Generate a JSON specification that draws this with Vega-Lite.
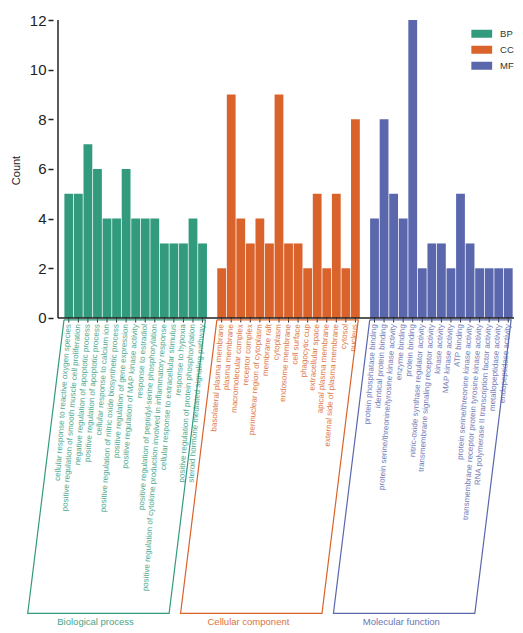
{
  "$schema": "https://vega.github.io/schema/vega-lite/v6.json",
  "width": 466,
  "height": 613,
  "autosize": {"type": "none"},
  "padding": {"left": 53, "top": 20, "right": 4, "bottom": 0},
  "background": "white",
  "config": {"font": "Liberation Sans", "view": {"stroke": null}},
  "data": {"values": [
    {"term": "cellular response to reactive oxygen species", "group": "BP", "category": "Biological process", "idx": 1, "count": 5},
    {"term": "positive regulation of smooth muscle cell proliferation", "group": "BP", "category": "Biological process", "idx": 2, "count": 5},
    {"term": "negative regulation of apoptotic process", "group": "BP", "category": "Biological process", "idx": 3, "count": 7},
    {"term": "positive regulation of apoptotic process", "group": "BP", "category": "Biological process", "idx": 4, "count": 6},
    {"term": "cellular response to calcium ion", "group": "BP", "category": "Biological process", "idx": 5, "count": 4},
    {"term": "positive regulation of nitric oxide biosynthetic process", "group": "BP", "category": "Biological process", "idx": 6, "count": 4},
    {"term": "positive regulation of gene expression", "group": "BP", "category": "Biological process", "idx": 7, "count": 6},
    {"term": "positive regulation of MAP kinase activity", "group": "BP", "category": "Biological process", "idx": 8, "count": 4},
    {"term": "response to estradiol", "group": "BP", "category": "Biological process", "idx": 9, "count": 4},
    {"term": "positive regulation of peptidyl-serine phosphorylation", "group": "BP", "category": "Biological process", "idx": 10, "count": 4},
    {"term": "positive regulation of cytokine production involved in inflammatory response", "group": "BP", "category": "Biological process", "idx": 11, "count": 3},
    {"term": "cellular response to extracellular stimulus", "group": "BP", "category": "Biological process", "idx": 12, "count": 3},
    {"term": "response to hypoxia", "group": "BP", "category": "Biological process", "idx": 13, "count": 3},
    {"term": "positive regulation of protein phosphorylation", "group": "BP", "category": "Biological process", "idx": 14, "count": 4},
    {"term": "steroid hormone mediated signaling pathway", "group": "BP", "category": "Biological process", "idx": 15, "count": 3},
    {"term": "basolateral plasma membrane", "group": "CC", "category": "Cellular component", "idx": 17, "count": 2},
    {"term": "plasma membrane", "group": "CC", "category": "Cellular component", "idx": 18, "count": 9},
    {"term": "macromolecular complex", "group": "CC", "category": "Cellular component", "idx": 19, "count": 4},
    {"term": "receptor complex", "group": "CC", "category": "Cellular component", "idx": 20, "count": 3},
    {"term": "perinuclear region of cytoplasm", "group": "CC", "category": "Cellular component", "idx": 21, "count": 4},
    {"term": "membrane raft", "group": "CC", "category": "Cellular component", "idx": 22, "count": 3},
    {"term": "cytoplasm", "group": "CC", "category": "Cellular component", "idx": 23, "count": 9},
    {"term": "endosome membrane", "group": "CC", "category": "Cellular component", "idx": 24, "count": 3},
    {"term": "cell surface", "group": "CC", "category": "Cellular component", "idx": 25, "count": 3},
    {"term": "phagocytic cup", "group": "CC", "category": "Cellular component", "idx": 26, "count": 2},
    {"term": "extracellular space", "group": "CC", "category": "Cellular component", "idx": 27, "count": 5},
    {"term": "apical plasma membrane", "group": "CC", "category": "Cellular component", "idx": 28, "count": 2},
    {"term": "external side of plasma membrane", "group": "CC", "category": "Cellular component", "idx": 29, "count": 5},
    {"term": "cytosol", "group": "CC", "category": "Cellular component", "idx": 30, "count": 2},
    {"term": "nucleus", "group": "CC", "category": "Cellular component", "idx": 31, "count": 8},
    {"term": "protein phosphatase binding", "group": "MF", "category": "Molecular function", "idx": 33, "count": 4},
    {"term": "identical protein binding", "group": "MF", "category": "Molecular function", "idx": 34, "count": 8},
    {"term": "protein serine/threonine/tyrosine kinase activity", "group": "MF", "category": "Molecular function", "idx": 35, "count": 5},
    {"term": "enzyme binding", "group": "MF", "category": "Molecular function", "idx": 36, "count": 4},
    {"term": "protein binding", "group": "MF", "category": "Molecular function", "idx": 37, "count": 12},
    {"term": "nitric-oxide synthase regulator activity", "group": "MF", "category": "Molecular function", "idx": 38, "count": 2},
    {"term": "transmembrane signaling receptor activity", "group": "MF", "category": "Molecular function", "idx": 39, "count": 3},
    {"term": "kinase activity", "group": "MF", "category": "Molecular function", "idx": 40, "count": 3},
    {"term": "MAP kinase activity", "group": "MF", "category": "Molecular function", "idx": 41, "count": 2},
    {"term": "ATP binding", "group": "MF", "category": "Molecular function", "idx": 42, "count": 5},
    {"term": "protein serine/threonine kinase activity", "group": "MF", "category": "Molecular function", "idx": 43, "count": 3},
    {"term": "transmembrane receptor protein tyrosine kinase activity", "group": "MF", "category": "Molecular function", "idx": 44, "count": 2},
    {"term": "RNA polymerase II transcription factor activity", "group": "MF", "category": "Molecular function", "idx": 45, "count": 2},
    {"term": "metallopeptidase activity", "group": "MF", "category": "Molecular function", "idx": 46, "count": 2},
    {"term": "endopeptidase activity", "group": "MF", "category": "Molecular function", "idx": 47, "count": 2}
  ]},
  "layer": [
    {
      "mark": {"type": "bar", "size": 8.8},
      "encoding": {
        "x": {"field": "idx", "type": "quantitative", "scale": {"domain": [-0.13, 47.6], "nice": false, "zero": false}, "axis": null},
        "y": {"field": "count", "type": "quantitative", "scale": {"domain": [-12.69, 12], "nice": false, "zero": false},
          "axis": {"values": [0, 2, 4, 6, 8, 10, 12], "domain": false, "grid": false, "ticks": true, "tickColor": "#222", "tickSize": 5, "tickWidth": 1.5,
            "labelFontSize": 15, "labelColor": "#222", "labelPadding": 2, "title": "Count", "titleFontSize": 11, "titleFontWeight": "normal", "titleColor": "#222", "titlePadding": 8, "titleY": 150}},
        "color": {"field": "group", "type": "nominal", "scale": {"domain": ["BP", "CC", "MF"], "range": ["#329b7d", "#d9632b", "#5a67ad"]},
          "legend": {"orient": "none", "legendX": 424, "legendY": 9, "title": null, "symbolType": "M-2.6,-1H2.6V1H-2.6Z", "symbolSize": 64, "labelFontSize": 9.5, "labelOffset": 13.6, "rowPadding": 5, "padding": 0, "symbolStrokeWidth": 0, "labelColor": "#333", "symbolOpacity": 1}}
      }
    },
    {
      "mark": {"type": "rule", "color": "#222", "strokeWidth": 1},
      "encoding": {
        "x": {"field": "idx", "type": "quantitative", "scale": {"domain": [-0.13, 47.6], "nice": false, "zero": false}},
        "y": {"datum": 0, "type": "quantitative", "scale": {"domain": [-12.69, 12], "nice": false, "zero": false}},
        "y2": {"datum": -0.18}
      }
    },
    {
      "data": {"values": [{}]},
      "mark": {"type": "rule", "color": "#222", "strokeWidth": 1.5},
      "encoding": {
        "x": {"datum": -0.13, "type": "quantitative", "scale": {"domain": [-0.13, 47.6], "nice": false, "zero": false}},
        "x2": {"datum": 47.6},
        "y": {"datum": 0, "type": "quantitative", "scale": {"domain": [-12.69, 12], "nice": false, "zero": false}}
      }
    },
    {
      "data": {"values": [{}]},
      "mark": {"type": "rule", "color": "#222", "strokeWidth": 1.5},
      "encoding": {
        "x": {"datum": -0.13, "type": "quantitative", "scale": {"domain": [-0.13, 47.6], "nice": false, "zero": false}},
        "y": {"datum": 0, "type": "quantitative", "scale": {"domain": [-12.69, 12], "nice": false, "zero": false}},
        "y2": {"datum": 12}
      }
    },
    {
      "mark": {"type": "text", "angle": 274, "align": "right", "baseline": "middle", "fontSize": 8, "opacity": 0.85},
      "encoding": {
        "x": {"field": "idx", "type": "quantitative", "scale": {"domain": [-0.13, 47.6], "nice": false, "zero": false}},
        "y": {"datum": -0.25, "type": "quantitative", "scale": {"domain": [-12.69, 12], "nice": false, "zero": false}},
        "text": {"field": "term"},
        "fill": {"field": "group", "type": "nominal", "scale": {"domain": ["BP", "CC", "MF"], "range": ["#329b7d", "#d9632b", "#5a67ad"]}, "legend": null}
      }
    },
    {
      "transform": [
        {"aggregate": [{"op": "min", "field": "idx", "as": "lo"}, {"op": "max", "field": "idx", "as": "hi"}], "groupby": ["group"]},
        {"calculate": "datum.lo - 0.5", "as": "p1"},
        {"calculate": "datum.hi + 0.3", "as": "p2"},
        {"calculate": "datum.hi + 0.3 - 3.8", "as": "p3"},
        {"calculate": "datum.lo - 0.5 - 3.8", "as": "p4"},
        {"calculate": "datum.lo - 0.5", "as": "p5"},
        {"fold": ["p1", "p2", "p3", "p4", "p5"], "as": ["corner", "bx"]},
        {"calculate": "datum.corner == 'p3' || datum.corner == 'p4' ? -11.9 : -0.08", "as": "by"}
      ],
      "mark": {"type": "line", "strokeWidth": 1.2},
      "encoding": {
        "x": {"field": "bx", "type": "quantitative", "scale": {"domain": [-0.13, 47.6], "nice": false, "zero": false}},
        "y": {"field": "by", "type": "quantitative", "scale": {"domain": [-12.69, 12], "nice": false, "zero": false}},
        "order": {"field": "corner"},
        "stroke": {"field": "group", "type": "nominal", "scale": {"domain": ["BP", "CC", "MF"], "range": ["#329b7d", "#d9632b", "#5a67ad"]}, "legend": null}
      }
    },
    {
      "transform": [
        {"aggregate": [{"op": "min", "field": "idx", "as": "lo"}, {"op": "max", "field": "idx", "as": "hi"}], "groupby": ["group", "category"]},
        {"calculate": "(datum.lo + datum.hi) / 2 - 4.2", "as": "cx"}
      ],
      "mark": {"type": "text", "baseline": "middle", "align": "center", "fontSize": 9.5, "opacity": 0.9},
      "encoding": {
        "x": {"field": "cx", "type": "quantitative", "scale": {"domain": [-0.13, 47.6], "nice": false, "zero": false}},
        "y": {"datum": -12.25, "type": "quantitative", "scale": {"domain": [-12.69, 12], "nice": false, "zero": false}},
        "text": {"field": "category"},
        "fill": {"field": "group", "type": "nominal", "scale": {"domain": ["BP", "CC", "MF"], "range": ["#329b7d", "#d9632b", "#5a67ad"]}, "legend": null}
      }
    }
  ]
}
